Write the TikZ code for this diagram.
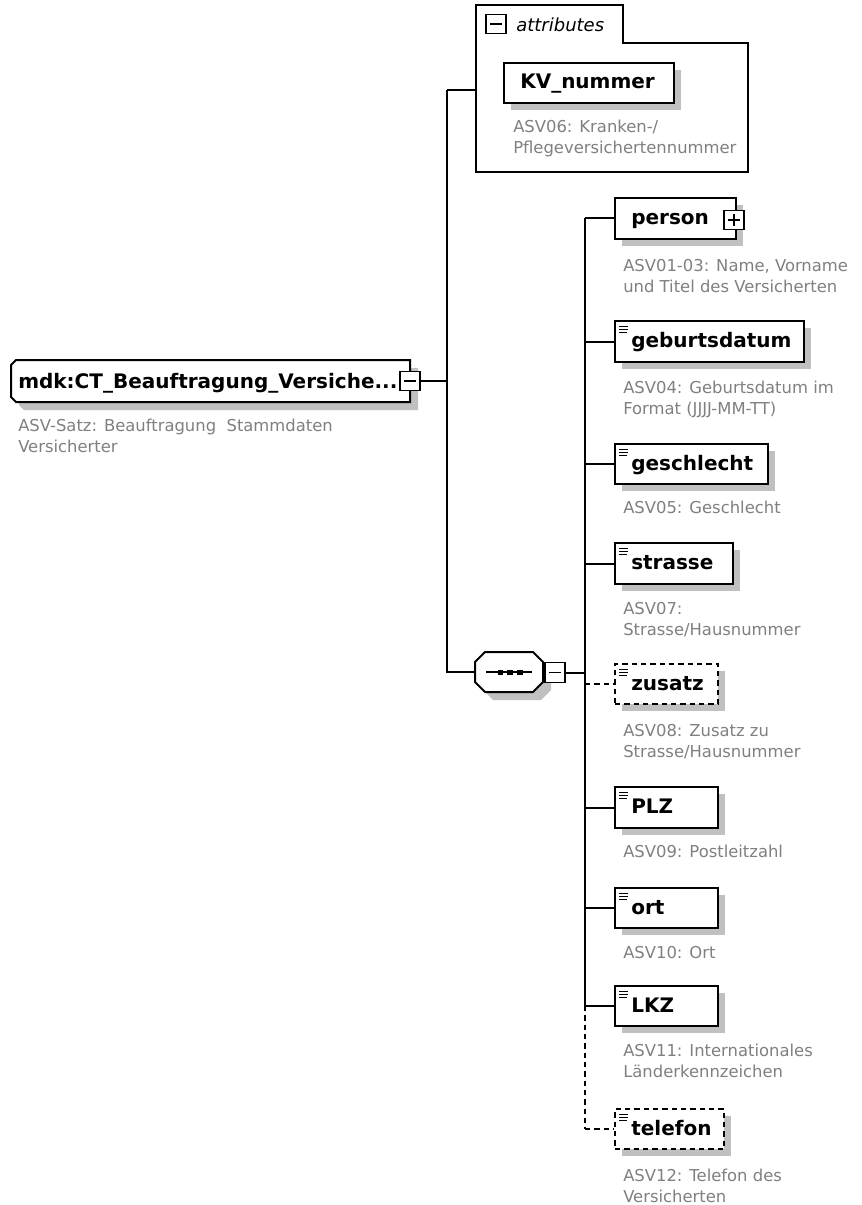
\documentclass[tikz,border=0pt]{standalone}
\usepackage{fontspec}
\setmainfont{DejaVu Sans}
\definecolor{shd}{RGB}{192,192,192}
\definecolor{annoc}{RGB}{128,128,128}
\tikzset{
  conn/.style={line width=1.5pt},
  dsh/.style={dash pattern=on 4pt off 3pt},
  boxs/.style={draw, line width=1.5pt, fill=white, inner sep=0, anchor=north west},
  lbl/.style={font=\bfseries\fontsize{15}{18}\selectfont, inner sep=0, anchor=base west},
  ann/.style={font=\fontsize{12.3}{15}\selectfont, text=annoc, inner sep=0, anchor=base west},
  iconbox/.style={draw, line width=1.1pt, fill=white, inner sep=0, minimum width=15pt, minimum height=14pt},
  minusicon/.style={iconbox, path picture={\draw[line width=1pt] ([xshift=3pt]path picture bounding box.west) -- ([xshift=-3pt]path picture bounding box.east);}},
  plusicon/.style={iconbox, path picture={\draw[line width=1pt] ([xshift=3pt]path picture bounding box.west) -- ([xshift=-3pt]path picture bounding box.east) ([yshift=-2.5pt]path picture bounding box.north) -- ([yshift=2.5pt]path picture bounding box.south);}},
}
\newcommand\mkel[8]{% name, x1, y1, x2, y2, style, label, icon(1/0)
  \fill[shd] (#2+8,#3+8) rectangle (#4+8,#5+8);
  \node[boxs,#6,minimum width={(#4-#2)*0.75pt},minimum height={(#5-#3)*0.75pt}] (#1) at (#2,#3) {};
  \node[lbl] (#1-t) at (#2+17,{(#3+#5)/2+7}) {#7};
  \ifnum#8=1
    \draw[line width=1pt] (#2+5,#3+6.5) -- ++(9,0) (#2+5,#3+9.5) -- ++(9,0) (#2+5,#3+12.5) -- ++(8,0);
  \fi
}
\newcommand\annotwo[5]{% name, x, y-center line1, line1, line2
  \node[ann] (#1-a) at (#2,#3+6) {#4};
  \node[ann] (#1-b) at (#2,#3+27) {#5};
}
\begin{document}
\begin{tikzpicture}[x=0.75pt,y=-0.75pt]
\useasboundingbox (0,0) rectangle (861,1205);
\fill[white] (0,0) rectangle (861,1205);

% ---------- attributes container
\draw[line width=1.5pt, fill=white] (476,43) -- (476,5) -- (623,5) -- (623,43) -- (748,43) -- (748,172) -- (476,172) -- cycle;
\node[inner sep=0, minimum width={272*0.75pt}, minimum height={129*0.75pt}, anchor=north west] (attrs) at (476,43) {};
\node[minusicon] (attrminus) at (496,24) {};
\node[font=\itshape\fontsize{13.5}{16}\selectfont, anchor=base west, inner sep=0] (attrlbl) at (516,32) {attributes};
\mkel{kv}{503}{62}{673}{102}{}{KV\_nummer}{0}
\annotwo{kvann}{513}{127}{ASV06: Kranken-/}{Pflegeversichertennummer}

% ---------- root
\fill[shd] (24,368) -- (418,368) -- (418,410) -- (24,410) -- (19,405) -- (19,373) -- cycle;
\draw[line width=1.5pt, fill=white] (16,360) -- (410,360) -- (410,402) -- (16,402) -- (11,397) -- (11,365) -- cycle;
\node[inner sep=0, minimum width={399*0.75pt}, minimum height={42*0.75pt}, anchor=north west] (root) at (11,360) {};
\node[lbl] (root-t) at (18,388) {mdk:CT\_Beauftragung\_Versiche...};
\node[minusicon] (rootminus) at (410,381) {};
\annotwo{rootann}{18}{425}{ASV-Satz: Beauftragung\ \ Stammdaten}{Versicherter}

% left bus
\coordinate (lb) at (447,90);
\draw[conn] (rootminus.east) -- (rootminus.east -| lb);

% ---------- sequence compositor
\fill[shd] (493,660) -- (541,660) -- (551,670) -- (551,690) -- (541,700) -- (493,700) -- (483,690) -- (483,670) -- cycle;
\draw[line width=1.5pt, fill=white] (485,652) -- (533,652) -- (543,662) -- (543,682) -- (533,692) -- (485,692) -- (475,682) -- (475,662) -- cycle;
\node[inner sep=0, minimum width={68*0.75pt}, minimum height={40*0.75pt}, anchor=north west] (seq) at (475,652) {};
\draw[line width=1.2pt] (486,672) -- (532,672);
\fill (498,669.5) rectangle (503,674.5);
\fill (507,669.5) rectangle (513,674.5);
\fill (517,669.5) rectangle (523,674.5);
\node[minusicon, minimum height=15pt] (seqminus) at (555,672.5) {};

\draw[conn] (lb) -- (lb -| attrs.west);
\draw[conn] (lb) -- (seq.west -| lb) -- (seq.west);

% ---------- children
\coordinate (bus) at (585,218);
\mkel{person}{614}{197}{735}{238}{}{person}{0}
\node[plusicon] (personplus) at (734,220) {};
\annotwo{personann}{623}{266}{ASV01-03: Name, Vorname}{und Titel des Versicherten}

\mkel{geb}{614}{320}{803}{361}{}{geburtsdatum}{1}
\annotwo{gebann}{623}{387}{ASV04: Geburtsdatum im}{Format (JJJJ-MM-TT)}

\mkel{ges}{614}{443}{767}{483}{}{geschlecht}{1}
\node[ann] (gesann) at (623,513) {ASV05: Geschlecht};

\mkel{str}{614}{542}{732}{583}{}{strasse}{1}
\annotwo{strann}{623}{608}{ASV07:}{Strasse/Hausnummer}

\mkel{zus}{614}{663}{717}{703}{dsh}{zusatz}{1}
\annotwo{zusann}{623}{730}{ASV08: Zusatz zu}{Strasse/Hausnummer}

\mkel{plz}{614}{786}{717}{827}{}{PLZ}{1}
\node[ann] (plzann) at (623,857) {ASV09: Postleitzahl};

\mkel{ort}{614}{887}{717}{927}{}{ort}{1}
\node[ann] (ortann) at (623,958) {ASV10: Ort};

\mkel{lkz}{614}{985}{717}{1025}{}{LKZ}{1}
\annotwo{lkzann}{623}{1050}{ASV11: Internationales}{Länderkennzeichen}

\mkel{tel}{614}{1108}{723}{1148}{dsh}{telefon}{1}
\annotwo{telann}{623}{1175}{ASV12: Telefon des}{Versicherten}

% bus lines
\draw[conn] (seqminus.east) -- (seqminus.east -| bus);
\draw[conn] (person.west -| bus) -- (lkz.west -| bus);
\draw[conn,dsh] (lkz.west -| bus) -- (tel.west -| bus);
\foreach \n in {person,geb,ges,str,plz,ort,lkz} {
  \draw[conn] (\n.west -| bus) -- (\n.west);
}
\draw[conn,dsh] (zus.west -| bus) -- (zus.west);
\draw[conn,dsh] (tel.west -| bus) -- (tel.west);
\end{tikzpicture}
\end{document}
